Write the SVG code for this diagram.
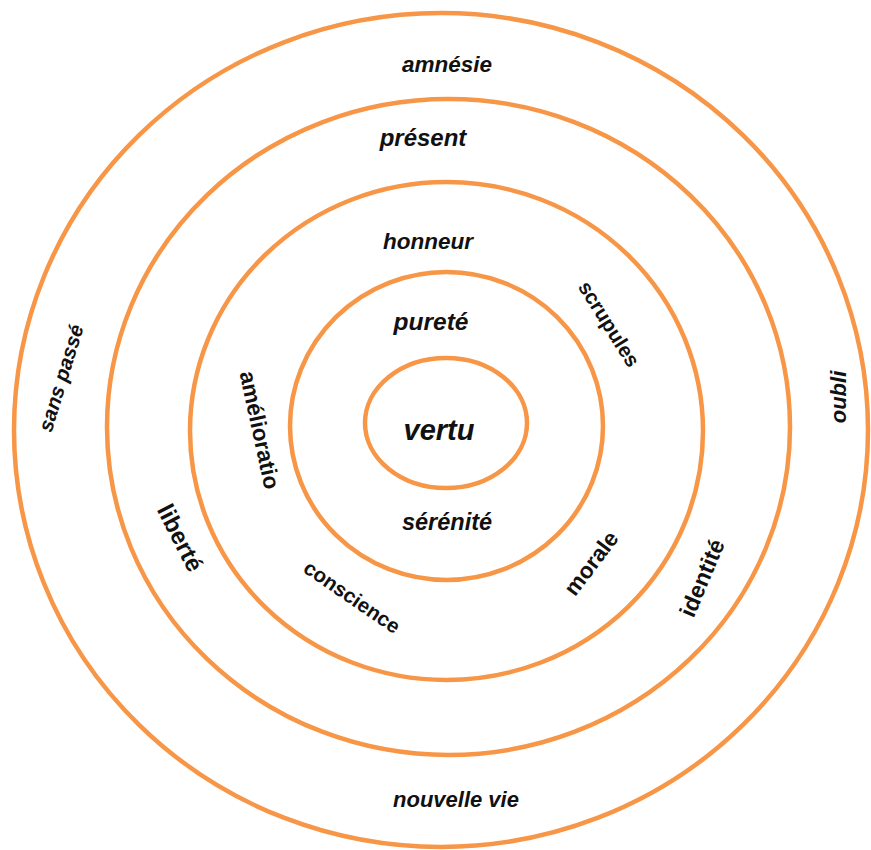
<svg xmlns="http://www.w3.org/2000/svg" width="871" height="850" viewBox="0 0 871 850">
<style>
.ring{fill:none;stroke:#F79646;stroke-width:4.5}
.t{font-family:"Liberation Sans",Arial,sans-serif;fill:#111;text-anchor:middle}
.h{font-weight:bold;font-style:italic}
.r{font-weight:bold}
.i{font-style:italic}
</style>
<rect width="871" height="850" fill="#fff"/>
<g id="ring-outer">
<ellipse class="ring" cx="441" cy="430" rx="427" ry="417"/>
<text class="t h" x="447" y="72" font-size="22.5">amnésie</text>
<text class="t h" x="456" y="807" font-size="22">nouvelle vie</text>
<text class="t r i" font-size="20.5" transform="translate(61,378) rotate(-73)" y="7">sans passé</text>
<text class="t r i" font-size="22" transform="translate(838,397) rotate(-90)" y="8">oubli</text>
</g>
<g id="ring-2">
<ellipse class="ring" cx="448.5" cy="427" rx="341.5" ry="328"/>
<text class="t h" x="423" y="146" font-size="24">présent</text>
<text class="t r" font-size="24" transform="translate(180,538) rotate(63)" y="8">liberté</text>
<text class="t r" font-size="23" transform="translate(702,578) rotate(-67)" y="8">identité</text>
</g>
<g id="ring-3">
<ellipse class="ring" cx="446.5" cy="431" rx="256.5" ry="249"/>
<text class="t h" x="428" y="249" font-size="22.5">honneur</text>
<text class="t r" font-size="20.5" transform="translate(609,324) rotate(58)" y="7">scrupules</text>
<text class="t r" font-size="22.5" transform="translate(260,430) rotate(77.7)" y="8">amélioratio</text>
<text class="t r" font-size="20.5" transform="translate(352,597) rotate(34.5)" y="7">conscience</text>
<text class="t r" font-size="22.5" transform="translate(591,563) rotate(-52.8)" y="8">morale</text>
</g>
<g id="ring-4">
<ellipse class="ring" cx="446.5" cy="426" rx="156.5" ry="154"/>
<text class="t h" x="431" y="330" font-size="24.5">pureté</text>
<text class="t h" x="447" y="530" font-size="23.5">sérénité</text>
</g>
<g id="core">
<ellipse class="ring" cx="446" cy="423" rx="81" ry="65"/>
<text class="t h" x="439" y="440" font-size="29">vertu</text>
</g>
</svg>
